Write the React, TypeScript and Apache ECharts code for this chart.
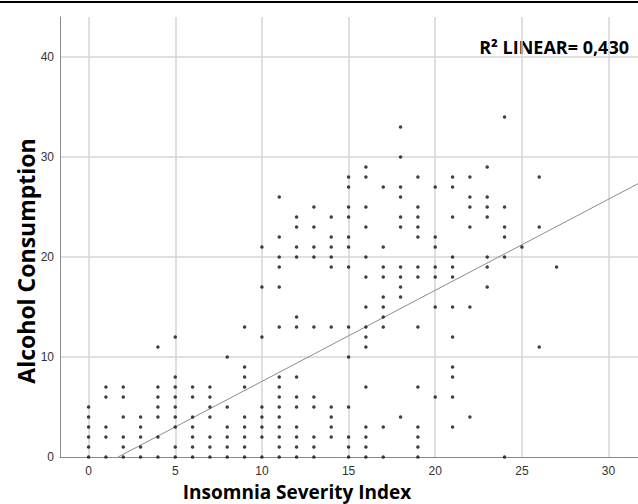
import React, { useEffect, useRef } from "react";
import * as echarts from "echarts";

// Alcohol consumption values observed at each Insomnia Severity Index score (index = ISI score)
const ALCOHOL_BY_ISI: number[][] = [
  [0, 1, 2, 3, 4, 5],
  [0, 2, 3, 6, 7],
  [0, 1, 2, 4, 6, 7],
  [0, 1, 2, 3, 4],
  [0, 2, 4, 5, 6, 7, 11],
  [0, 1, 3, 4, 5, 6, 7, 8, 12],
  [0, 1, 2, 3, 4, 6, 7],
  [0, 1, 2, 4, 5, 6, 7],
  [0, 1, 2, 3, 5, 10],
  [0, 1, 2, 3, 4, 7, 8, 9, 13],
  [0, 2, 3, 4, 5, 12, 17, 21],
  [0, 1, 2, 3, 4, 5, 6, 7, 8, 13, 17, 19, 20, 22, 26],
  [0, 1, 2, 3, 5, 6, 8, 13, 14, 20, 21, 23, 24],
  [0, 1, 2, 5, 6, 13, 20, 21, 23, 25],
  [2, 3, 4, 5, 13, 19, 20, 21, 22, 24],
  [0, 1, 2, 5, 10, 13, 19, 21, 22, 24, 25, 27, 28],
  [0, 1, 2, 3, 7, 11, 12, 13, 15, 18, 20, 23, 25, 28, 29],
  [0, 3, 13, 14, 15, 16, 18, 19, 21, 27],
  [4, 16, 17, 18, 19, 23, 24, 26, 27, 30, 33],
  [0, 1, 2, 3, 7, 13, 18, 19, 22, 23, 24, 25, 28],
  [6, 15, 18, 19, 21, 22, 27],
  [3, 6, 8, 9, 12, 15, 18, 19, 20, 24, 27, 28],
  [4, 15, 23, 25, 26, 28],
  [17, 19, 20, 24, 25, 26, 29],
  [0, 20, 22, 23, 25, 34],
  [21],
  [11, 23, 28],
  [19],
];

const X_TICKS = [0, 5, 10, 15, 20, 25, 30];
const Y_TICKS = [0, 10, 20, 30, 40];
const X_MIN = -1.65;
const X_MAX = 31.7;
const Y_MIN = 0;
const Y_MAX = 44;

// Linear fit
const FIT_INTERCEPT = -1.55;
const FIT_SLOPE = 0.911;
const R2_TEXT = "R² LINEAR= 0,430";

const X_TITLE = "Insomnia Severity Index";
const Y_TITLE = "Alcohol Consumption";

export default function App() {
  const ref = useRef<HTMLDivElement>(null);

  useEffect(() => {
    document.body.style.margin = "0";
    if (!ref.current) return;
    const chart = echarts.init(ref.current, undefined, { renderer: "svg" });

    const points: number[][] = [];
    ALCOHOL_BY_ISI.forEach((ys, x) => ys.forEach((y) => points.push([x, y])));

    const fitStartX = (0 - FIT_INTERCEPT) / FIT_SLOPE;
    const fitLine = [
      [fitStartX, 0],
      [X_MAX, FIT_INTERCEPT + FIT_SLOPE * X_MAX],
    ];

    const gridColor = "#d6d6d6";
    const labelFont = {
      fontFamily: "Liberation Sans",
      fontSize: 12,
      color: "#333",
    };

    chart.setOption({
      animation: false,
      grid: { left: 60, right: 0, top: 17, bottom: 47, containLabel: false },
      xAxis: {
        type: "value",
        min: X_MIN,
        max: X_MAX,
        axisLine: { show: true, onZero: false, lineStyle: { color: "#8a8a8a", width: 1 } },
        axisTick: { show: false },
        splitLine: { show: false },
        axisLabel: { ...labelFont, margin: 8, customValues: X_TICKS },
      },
      yAxis: {
        type: "value",
        min: Y_MIN,
        max: Y_MAX,
        axisLine: { show: true, onZero: false, lineStyle: { color: "#8a8a8a", width: 1 } },
        axisTick: { show: false },
        splitLine: { show: false },
        axisLabel: { ...labelFont, margin: 6, customValues: Y_TICKS },
      },
      series: [
        {
          type: "scatter",
          data: [],
          z: 0,
          silent: true,
          markLine: {
            silent: true,
            z: 0,
            symbol: "none",
            label: { show: false },
            emphasis: { disabled: true },
            lineStyle: { color: gridColor, width: 1.5, type: "solid" },
            data: [
              ...X_TICKS.map((v) => ({ xAxis: v })),
              ...Y_TICKS.filter((v) => v > 0).map((v) => ({ yAxis: v })),
            ],
          },
        },
        {
          type: "line",
          data: fitLine,
          symbol: "none",
          z: 2,
          silent: true,
          lineStyle: { color: "#8c8c8c", width: 1 },
        },
        {
          type: "scatter",
          data: points,
          symbol: "circle",
          symbolSize: 3.5,
          z: 10,
          itemStyle: { color: "#111" },
        },
      ],
      graphic: [
        {
          type: "rect",
          shape: { x: 0, y: 1, width: 638, height: 2 },
          style: { fill: "#000" },
        },
        {
          type: "text",
          x: 297,
          y: 492,
          style: {
            text: X_TITLE,
            font: 'bold 19px "Open Sans"',
            fill: "#000",
            textAlign: "center",
            textVerticalAlign: "middle",
          },
        },
        {
          type: "text",
          x: 26,
          y: 261,
          rotation: Math.PI / 2,
          style: {
            text: Y_TITLE,
            font: 'bold 23px "Open Sans"',
            fill: "#000",
            textAlign: "center",
            textVerticalAlign: "middle",
          },
        },
        {
          type: "text",
          x: 629,
          y: 47,
          style: {
            text: R2_TEXT,
            font: 'bold 18px "Open Sans"',
            fill: "#000",
            textAlign: "right",
            textVerticalAlign: "middle",
          },
        },
      ],
    });

    return () => chart.dispose();
  }, []);

  return <div ref={ref} style={{ width: 638, height: 504 }} />;
}
